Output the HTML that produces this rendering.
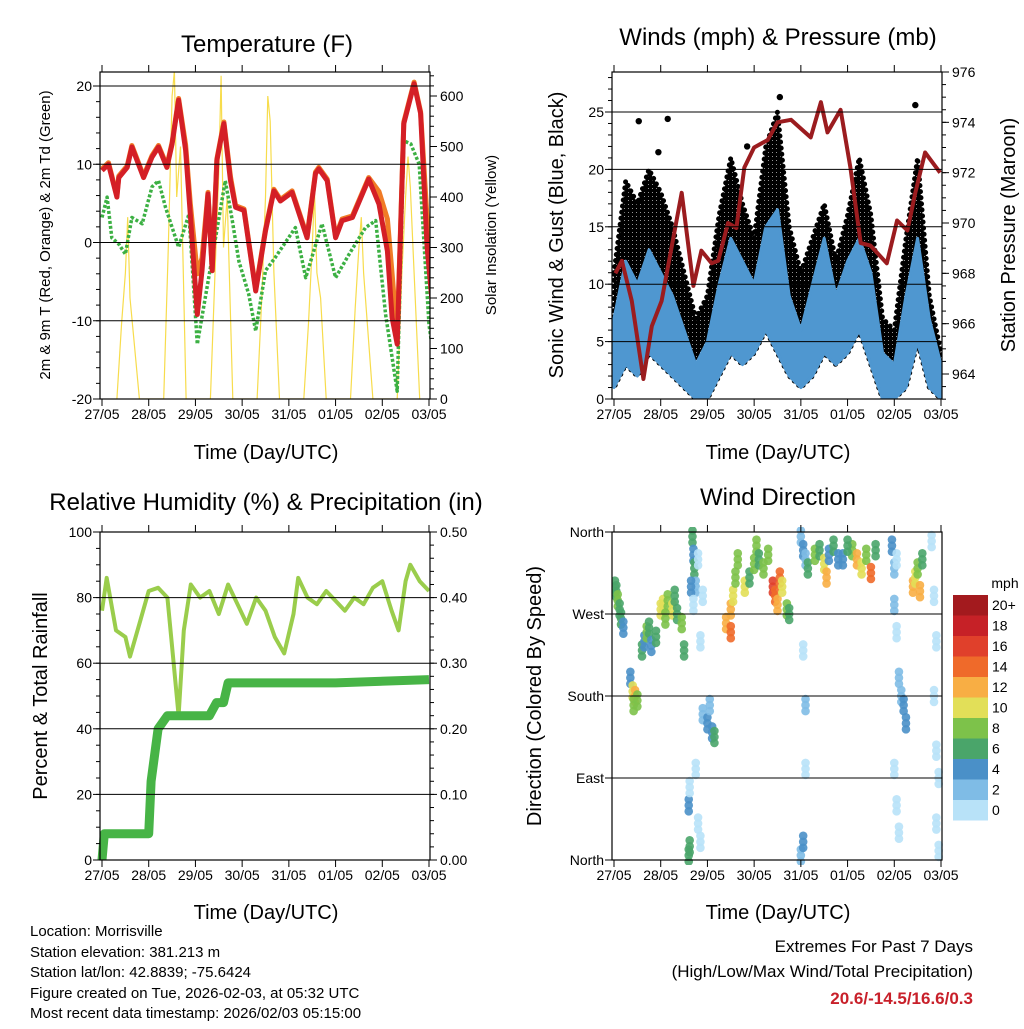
<!DOCTYPE html>
<html><head><meta charset="utf-8"><style>
body{margin:0;background:#fff;}
svg text{font-family:"Liberation Sans",sans-serif;fill:#000;}
</style></head><body>
<svg id="s" width="1024" height="1024" viewBox="0 0 1024 1024">
<defs>
<pattern id="dots" width="4" height="4" patternUnits="userSpaceOnUse"><rect width="4" height="4" fill="#000"/><circle cx="0" cy="0" r="0.9" fill="#fff"/></pattern>
</defs>
<g id="g"></g>
<text x="267" y="52" font-size="24" text-anchor="middle">Temperature (F)</text>
<text x="778" y="45" font-size="24" text-anchor="middle">Winds (mph) &amp; Pressure (mb)</text>
<text x="266" y="510" font-size="24" text-anchor="middle">Relative Humidity (%) &amp; Precipitation (in)</text>
<text x="778" y="505" font-size="24" text-anchor="middle">Wind Direction</text>
<text x="266" y="459" font-size="20" text-anchor="middle">Time (Day/UTC)</text>
<text x="778" y="459" font-size="20" text-anchor="middle">Time (Day/UTC)</text>
<text x="266" y="919" font-size="20" text-anchor="middle">Time (Day/UTC)</text>
<text x="778" y="919" font-size="20" text-anchor="middle">Time (Day/UTC)</text>
<text transform="translate(50,235) rotate(-90)" font-size="15" text-anchor="middle">2m &amp; 9m T (Red, Orange) &amp; 2m Td (Green)</text>
<text transform="translate(496,235) rotate(-90)" font-size="15" text-anchor="middle">Solar Insolation (Yellow)</text>
<text transform="translate(563,235) rotate(-90)" font-size="20" text-anchor="middle">Sonic Wind &amp; Gust (Blue, Black)</text>
<text transform="translate(1015,235) rotate(-90)" font-size="20" text-anchor="middle">Station Pressure (Maroon)</text>
<text transform="translate(47,696) rotate(-90)" font-size="20" text-anchor="middle">Percent &amp; Total Rainfall</text>
<text transform="translate(541,696) rotate(-90)" font-size="20" text-anchor="middle">Direction (Colored By Speed)</text>
<g font-size="15">
<text x="30" y="936">Location: Morrisville</text>
<text x="30" y="957">Station elevation: 381.213 m</text>
<text x="30" y="977">Station lat/lon: 42.8839; -75.6424</text>
<text x="30" y="998">Figure created on Tue, 2026-02-03, at 05:32 UTC</text>
<text x="30" y="1018">Most recent data timestamp: 2026/02/03 05:15:00</text>
</g>
<g font-size="17" text-anchor="end">
<text x="973" y="952">Extremes For Past 7 Days</text>
<text x="973" y="977">(High/Low/Max Wind/Total Precipitation)</text>
<text x="973" y="1004" font-weight="bold" style="fill:#c8202a">20.6/-14.5/16.6/0.3</text>
</g>
<text x="1005" y="588" font-size="14" text-anchor="middle">mph</text>
</svg>
<script>
const dayLabels=["27/05","28/05","29/05","30/05","31/05","01/05","02/05","03/05"];
// temperature
const tT=[0,0.14,0.32,0.36,0.54,0.64,0.89,1.07,1.21,1.39,1.5,1.64,1.79,1.89,2.04,2.14,2.27,2.36,2.46,2.61,2.75,2.86,3.04,3.29,3.5,3.68,3.82,4.07,4.39,4.57,4.64,4.82,5.0,5.14,5.36,5.71,5.93,6.11,6.21,6.32,6.46,6.68,6.82,6.96,7.07];
const redT=[9.2,10,5.8,8.3,9.6,12.2,8.3,10.9,12.2,9.6,12.6,18.2,11.8,3.6,-9.2,-3.6,6.2,-3.6,10.5,15.2,7.9,4.5,4.1,-6.2,1.5,6.6,5.3,6.4,0.6,8.8,9.4,7.9,0.6,2.8,3.2,8.1,4.9,-1.1,-9.6,-13,15.2,20.3,16.5,-0.6,-7.9];
const orangeT=[9.4,10.2,6,8.5,9.8,12.4,8.5,11.1,12.4,9.8,12.8,18.4,12.5,5,-4,-2,6.4,-3.4,10.7,15.4,8.4,4.7,4.3,-6,1.7,6.8,5.5,6.6,0.8,9,9.6,8.1,0.8,3,3.4,8.3,6.5,3,-4,-12,15.4,20.5,16.7,3,-4];
const tD=[0,0.11,0.21,0.36,0.5,0.64,0.86,1.07,1.21,1.36,1.64,1.86,2.04,2.21,2.36,2.64,2.79,2.93,3.14,3.29,3.5,3.71,4.14,4.36,4.71,5.0,5.29,5.64,5.86,6.07,6.32,6.46,6.61,6.79,7.0,7.07];
const dewT=[3.2,5.8,0.6,-0.2,-1.5,3.2,2.4,7.1,7.9,4.5,-0.6,3.6,-13,-7.1,-1.9,7.9,2.8,-2.4,-6.6,-11.3,-3.6,-1.9,1.9,-4.5,2.4,-4.5,-1.5,1.9,2.8,-9.2,-19,13,12.6,10,-10.5,-13.5];
const solarT=[];const solarV=[];
const solarDays=[[0,150,250,360,200,120,0],[0,300,600,650,400,500,0],[0,250,450,640,300,400,0],[0,200,400,600,550,250,0],[0,150,300,410,250,200,0],[0,180,300,360,250,150,0],[0,250,400,480,420,250,0]];
const solarOff=[0.32,0.42,0.5,0.55,0.6,0.68,0.8];
// winds
const wT=[0,0.25,0.5,0.75,1,1.25,1.5,1.75,2,2.25,2.5,2.75,3,3.25,3.5,3.75,4,4.25,4.5,4.75,5,5.25,5.5,5.75,6,6.25,6.5,6.75,7];
const windHi=[7,12,10,13,11,9,6,3,5,10,14,12,10,15,16.5,9,6,10,14,9,12,14,11,4,3,9,14,7,3];
const windLo=[1,3,2,4,3,2,1,0,0,2,4,3,4,6,4,2,1,2,4,3,4,6,3,0,0,1,5,1,0];
const gustHi=[11,19,17,20,18,15,11,7,9,16,21,17,14,22,25,15,11,14,17,12,16,21,16,7,6,14,21,9,4];
const outT=[0.53,1.15,3.55,6.45,0.95,2.85];
const outV=[24.2,24.4,26.3,25.6,21.5,22];
const pT=[0.03,0.17,0.38,0.63,0.81,1.02,1.45,1.7,1.87,2.09,2.23,2.44,2.62,2.79,3.0,3.29,3.5,3.79,4.21,4.43,4.57,4.85,5.06,5.28,5.49,5.84,5.84,6.06,6.28,6.45,6.66,6.98];
const presV=[968.0,968.5,966.9,963.8,965.9,966.9,971.2,967.5,968.9,968.4,968.5,970.0,969.8,972.2,973.0,973.3,974.0,974.1,973.4,974.8,973.6,974.5,972.2,969.2,969.1,968.4,968.4,970.1,969.7,971.2,972.8,972.0];
// RH & precip
const rhT=[0,0.1,0.3,0.5,0.6,0.8,1.0,1.2,1.4,1.5,1.64,1.75,1.9,2.1,2.3,2.5,2.7,2.9,3.1,3.3,3.5,3.7,3.9,4.1,4.2,4.4,4.6,4.8,5.0,5.2,5.4,5.6,5.8,6.0,6.2,6.35,6.5,6.6,6.8,7.0];
const rhV=[76,86,70,68,62,72,82,83,80,65,44,70,84,80,82,75,84,78,72,80,76,68,63,75,86,80,78,82,79,76,80,78,83,85,76,70,85,90,85,82];
const prT=[0,0.05,1.0,1.05,1.2,1.4,2.3,2.45,2.6,2.7,5.0,7.0];
const prV=[0,0.04,0.04,0.12,0.2,0.22,0.22,0.24,0.24,0.27,0.27,0.275];
// direction: day, degrees, speed
const dirDay=[0.02,0.05,0.08,0.12,0.15,0.2,0.35,0.4,0.45,0.5,0.42,0.6,0.65,0.7,0.75,0.8,1.0,1.05,1.15,1.25,1.35,1.45,1.5,1.68,1.7,1.72,1.75,1.65,1.7,1.6,1.62,1.6,1.62,1.9,2.0,2.1,2.15,2.05,1.8,1.85,1.9,1.75,1.8,1.85,2.4,2.5,2.55,2.6,2.65,2.5,2.8,2.9,3.0,3.05,3.1,3.4,3.45,3.5,3.55,3.6,3.7,3.75,4.0,4.05,4.1,4.15,4.3,4.4,4.5,4.6,4.7,4.8,4.55,5.1,5.2,5.3,5.4,5.5,5.6,5.95,6.0,6.05,6.0,6.05,6.1,6.15,6.2,6.25,6.0,6.05,6.1,6.4,6.45,6.5,6.55,6.6,6.8,6.85,6.9,6.85,6.9,6.95,6.9,6.95,4.1,4.05,4.1,4.0,4.05,0.9,1.3,1.1,3.2,3.3,4.9,5.0];
const dirDeg=[300,295,285,275,265,255,200,185,180,175,170,230,240,250,255,235,275,280,285,275,270,260,230,355,335,320,300,300,280,5,15,60,80,160,150,140,135,170,330,240,290,100,40,20,260,275,290,310,330,250,300,310,325,345,330,300,290,280,310,300,275,270,355,340,330,320,335,340,325,335,345,330,310,340,330,320,335,315,340,345,320,330,280,250,200,180,170,150,100,60,30,300,310,320,295,330,350,290,240,180,120,90,40,10,170,230,100,5,20,245,290,265,320,335,330,345];
const dirSpd=[6,7,8,7,6,5,4,10,12,8,8,6,5,8,7,4,11,10,8,10,6,8,6,7,4,6,2,4,1,7,6,4,1,2,4,4,6,2,0,0,0,0,0,0,12,13,10,9,8,14,10,7,9,8,7,16,15,13,14,10,8,7,3,4,2,6,8,6,10,4,6,4,13,9,12,11,8,14,7,4,3,1,2,0,2,2,4,4,0,0,0,12,10,8,13,6,0,0,1,0,0,1,0,1,3,1,1,3,4,7,6,8,9,8,5,7];
const cbLabels=["20+","18","16","14","12","10","8","6","4","2","0"];
const cbColors=["#a31a1e","#c62127","#e0402b","#ef6a2a","#f8ae44","#e2df58","#7dc24a","#4aa56a","#4a90c8","#7fbce6","#b8e2f8"];

for(let d=0;d<7;d++){for(let k=0;k<7;k++){solarT.push(d+solarOff[k]);solarV.push(solarDays[d][k]);}}

const NS="http://www.w3.org/2000/svg";const G=document.getElementById('g');
function mk(tag,at,parent){const e=document.createElementNS(NS,tag);for(const k in at)e.setAttribute(k,at[k]);(parent||G).appendChild(e);return e;}
function lin(d0,d1,r0,r1){return v=>r0+(v-d0)*(r1-r0)/(d1-d0);}
function pathOf(xs,ys,sx,sy){return xs.map((t,i)=>(i?'L':'M')+sx(t).toFixed(1)+','+sy(ys[i]).toFixed(1)).join('');}

function panel(name,L,R,T,B,leftTicks,leftLab,ly,grid,rightTicks,rightLab,ry,minorL,minorR){
  const sx=lin(0,7,L+2,R-1);
  const g=mk('g',{});
  
  
  grid.forEach(v=>{mk('line',{x1:L,x2:R,y1:ly(v),y2:ly(v),stroke:'#000','stroke-width':1},g);});
  for(let i=0;i<8;i++){const x=sx(i);
    mk('line',{x1:x,x2:x,y1:B,y2:B+7,stroke:'#000'},g);mk('line',{x1:x,x2:x,y1:T,y2:T-7,stroke:'#000'},g);
    const t=mk('text',{x:x,y:B+20,'font-size':14,'text-anchor':'middle'},g);t.textContent=dayLabels[i];
    
    }
  leftTicks.forEach((v,i)=>{const y=ly(v);mk('line',{x1:L-7,x2:L,y1:y,y2:y,stroke:'#000'},g);
    const t=mk('text',{x:L-8,y:y+5,'font-size':14,'text-anchor':'end'},g);t.textContent=leftLab[i];
    
    });
  minorL.forEach(v=>mk('line',{x1:L-4,x2:L,y1:ly(v),y2:ly(v),stroke:'#000'},g));
  if(rightTicks){rightTicks.forEach((v,i)=>{const y=ry(v);mk('line',{x1:R,x2:R+7,y1:y,y2:y,stroke:'#000'},g);
    const t=mk('text',{x:R+10,y:y+5,'font-size':14},g);t.textContent=rightLab[i];
    
    });
    minorR.forEach(v=>mk('line',{x1:R,x2:R+4,y1:ry(v),y2:ry(v),stroke:'#000'},g));}
  mk('rect',{x:L,y:T,width:R-L,height:B-T,fill:'none',stroke:'#000','stroke-width':1.2},g);
  return sx;
}
function seq(a,b,s){const r=[];for(let v=a;v<=b+1e-9;v+=s)r.push(+v.toFixed(4));return r;}

// Panel 1
{const L=100,R=430,T=72,B=399;const ly=lin(-20,20,399,86);const ry=lin(0,600,399,96);
 const cp=mk('clipPath',{id:'c1'});mk('rect',{x:L,y:T,width:R-L,height:B-T},cp);
 const sx=lin(0,7,L+2,R-1);
 const d=mk('g',{'clip-path':'url(#c1)'});
 const sol=mk('path',{d:pathOf(solarT,solarV,sx,ry),fill:'none',stroke:'#f7dc4c','stroke-width':1.2},d);
 
 
 const dw=mk('path',{d:pathOf(tD,dewT,sx,ly),fill:'none',stroke:'#3cb043','stroke-width':3.5,'stroke-dasharray':'3 2','stroke-linejoin':'round'},d);
 
 
 const or=mk('path',{d:pathOf(tT,orangeT,sx,ly),fill:'none',stroke:'#f07b26','stroke-width':5,'stroke-linejoin':'round'},d);
 
 
 const rd=mk('path',{d:pathOf(tT,redT,sx,ly),fill:'none',stroke:'#d41f26','stroke-width':5,'stroke-linejoin':'round'},d);
 
 
 panel('temperature',L,R,T,B,[-20,-10,0,10,20],["-20","-10","0","10","20"],ly,[-10,0,10,20],seq(0,600,100),["0","100","200","300","400","500","600"],ry,seq(-20,21,2),seq(0,640,20));}

// Panel 2
{const L=612,R=942,T=72,B=399;const ly=lin(0,25,399,112);const ry=lin(964,976,374,72);
 const cp=mk('clipPath',{id:'c2'});mk('rect',{x:L,y:T,width:R-L,height:B-T},cp);
 const sx=lin(0,7,L+2,R-1);
 const d=mk('g',{'clip-path':'url(#c2)'});
 const gb=mk('path',{d:pathOf(wT,gustHi,sx,ly)+pathOf(wT.slice().reverse(),windLo.slice().reverse(),sx,ly).replace('M','L')+'Z',fill:'url(#dots)',stroke:'#000','stroke-width':5,'stroke-linecap':'round','stroke-linejoin':'round','stroke-dasharray':'0.1 6'},d);
 
 
 outT.forEach((t,i)=>{const c=mk('circle',{cx:sx(t),cy:ly(outV[i]),r:3.2,fill:'#000'},d);
   
   });
 const wb=mk('path',{d:pathOf(wT,windHi,sx,ly)+pathOf(wT.slice().reverse(),windLo.slice().reverse(),sx,ly).replace('M','L')+'Z',fill:'#4f97d0',stroke:'#4f97d0','stroke-width':3,'stroke-linejoin':'round'},d);
 
 
 const pr=mk('path',{d:pathOf(pT,presV,sx,ry),fill:'none',stroke:'#9b1c1f','stroke-width':4,'stroke-linejoin':'round'},d);
 
 
 panel('winds',L,R,T,B,[0,5,10,15,20,25],["0","5","10","15","20","25"],ly,[5,10,15,20,25],seq(964,976,2),["964","966","968","970","972","974","976"],ry,seq(0,28,1),seq(963,976,0.5));}

// Panel 3
{const L=100,R=430,T=532,B=860;const ly=lin(0,100,860,532);const ry=lin(0,0.5,860,532);
 const sx=lin(0,7,L+2,R-1);
 const rh=mk('path',{d:pathOf(rhT,rhV,sx,ly),fill:'none',stroke:'#9acd4c','stroke-width':4,'stroke-linejoin':'round'});
 
 
 const pp=mk('path',{d:pathOf(prT,prV,sx,ry),fill:'none',stroke:'#47b446','stroke-width':9,'stroke-linejoin':'round'});
 
 
 panel('humidity',L,R,T,B,seq(0,100,20),["0","20","40","60","80","100"],ly,[20,40,60,80],seq(0,0.5,0.1),["0.00","0.10","0.20","0.30","0.40","0.50"],ry,seq(0,100,5),seq(0,0.5,0.02));}

// Panel 4
{const L=612,R=942,T=532,B=860;const ly=lin(0,360,860,532);
 const sx=lin(0,7,L+2,R-1);
 const cp=mk('clipPath',{id:'c4'});mk('rect',{x:L,y:T-5,width:R-L+5,height:B-T+10},cp);
 const d=mk('g',{'clip-path':'url(#c4)'});
 const stack=[-6,0,6];
 dirDay.forEach((t,i)=>{const s=dirSpd[i];const idx=Math.max(0,Math.min(10,10-Math.floor(s/2)));
   const grp=mk('g',{},d);
   
   
   stack.forEach(o=>mk('circle',{cx:sx(t),cy:ly(dirDeg[i])+o,r:4.3,fill:cbColors[idx],'fill-opacity':0.9},grp));});
 panel('direction',L,R,T,B,[0,90,180,270,360],["North","East","South","West","North"],ly,[90,180,270],null,null,null,[],[]);
 cbColors.forEach((c,i)=>{const y=595+i*20.5;const r=mk('rect',{x:953,y:y,width:35,height:20.5,fill:c});
   
   
   const t=mk('text',{x:992,y:y+15,'font-size':14});t.textContent=cbLabels[i];
   
   });
}
</script>
</body></html>
